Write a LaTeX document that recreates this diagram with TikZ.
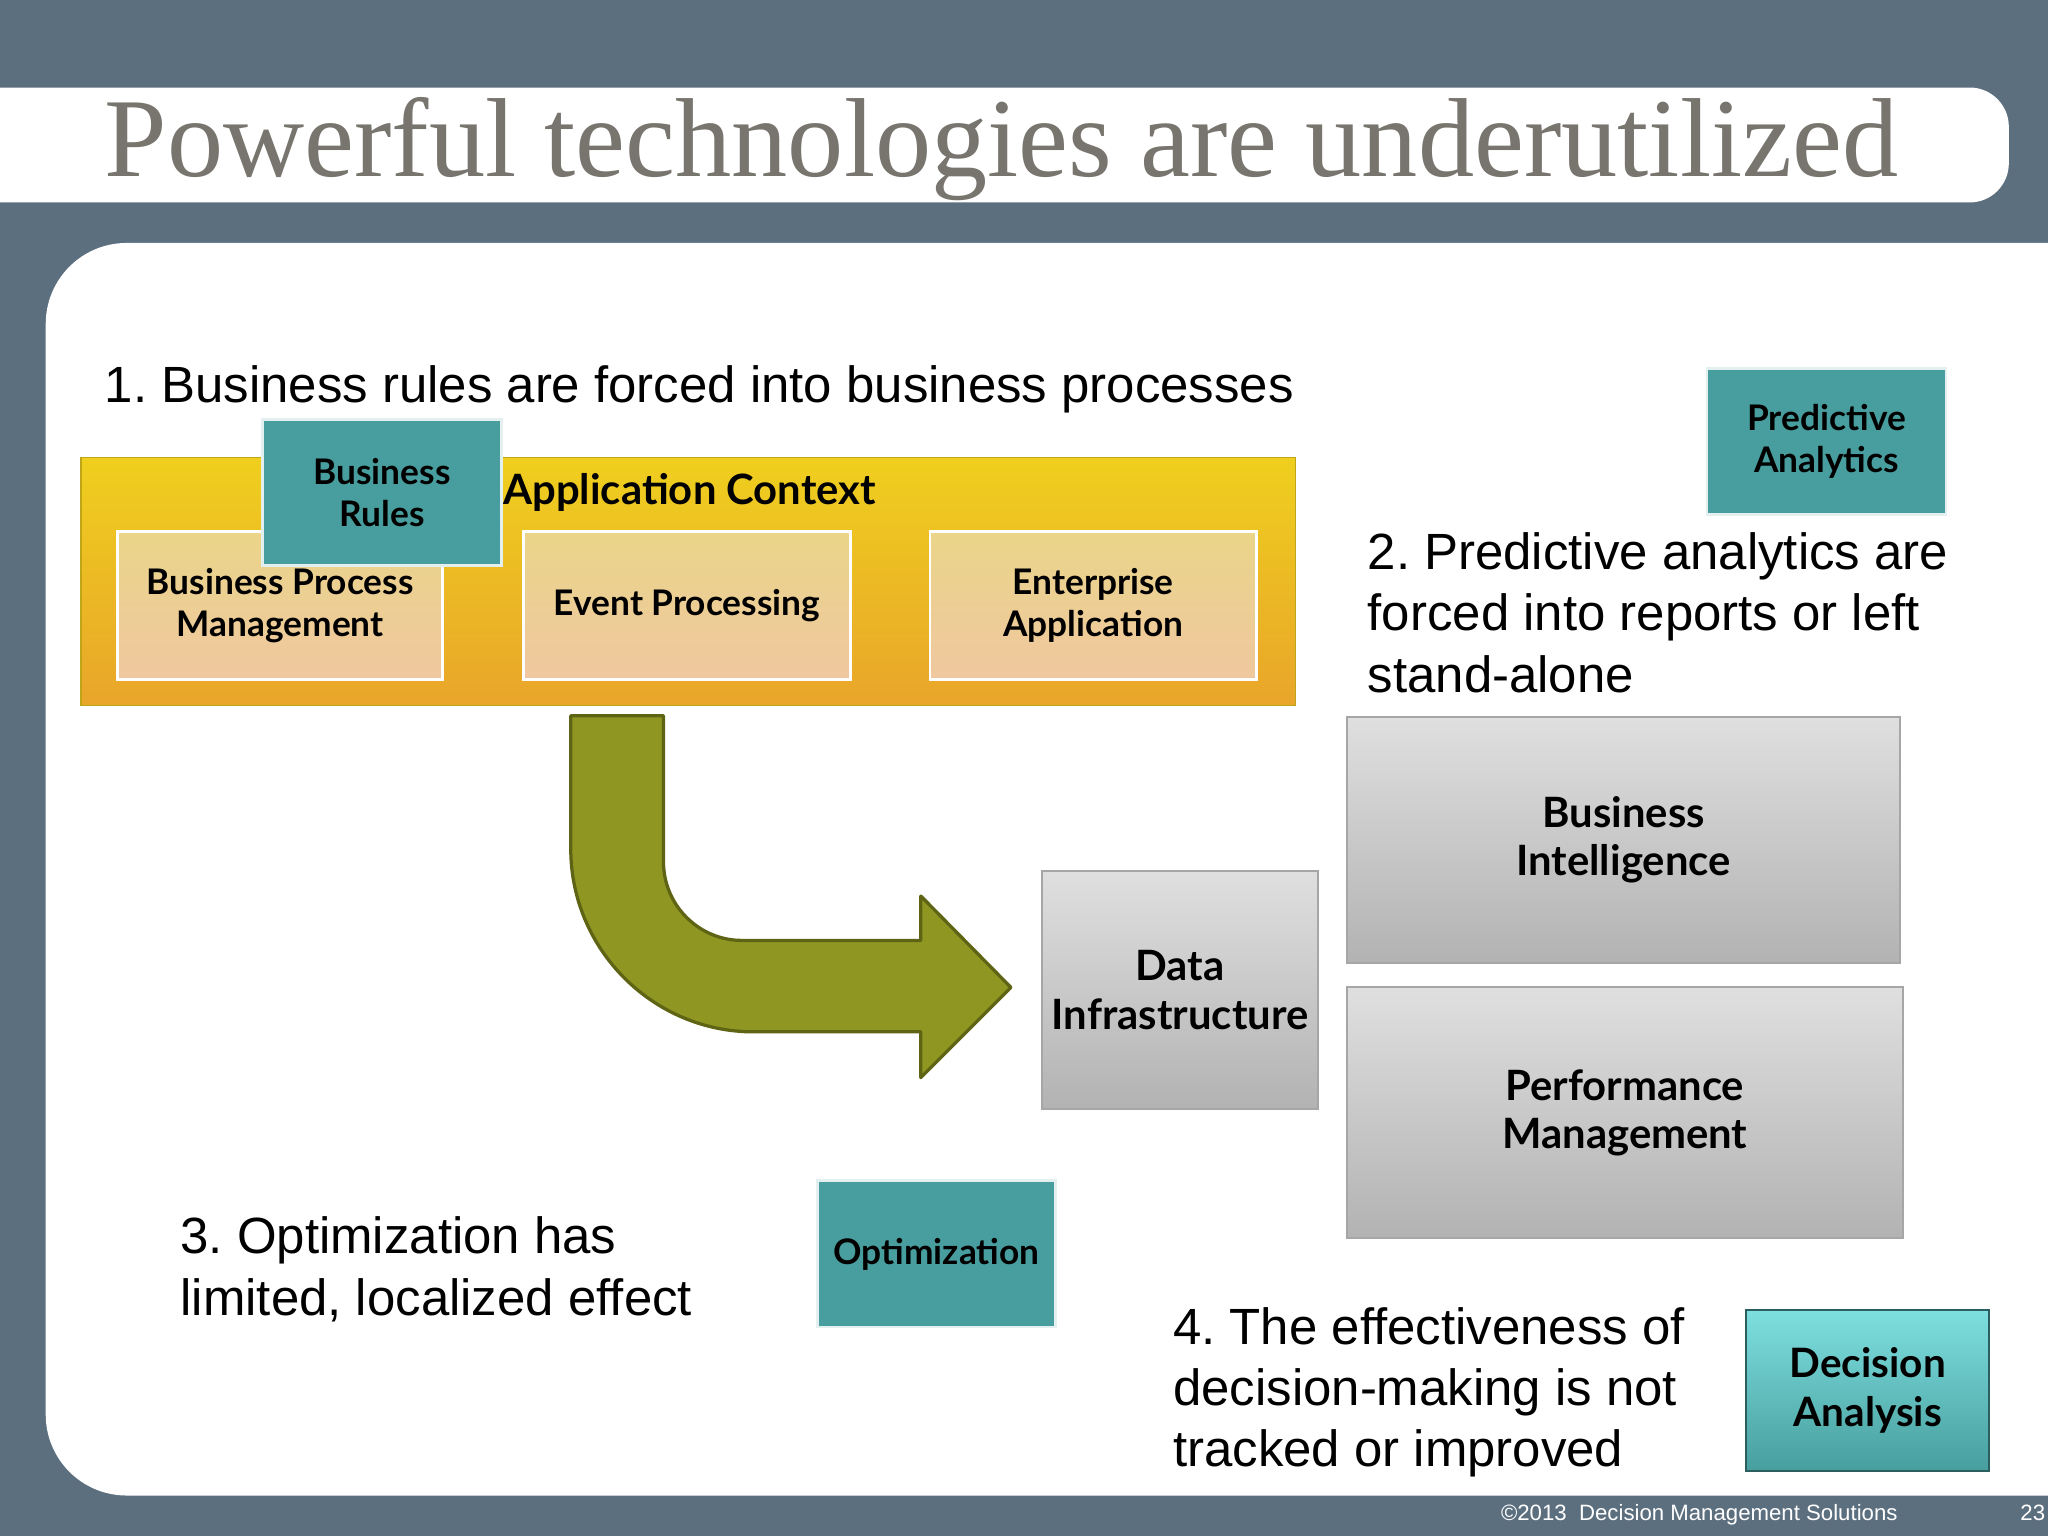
\documentclass[tikz,border=0pt]{standalone}
\usepackage{fontspec}
\setmainfont{Liberation Sans}
\newfontfamily\titlefont{Liberation Serif}
\newfontfamily\boxfont{Lato}
\definecolor{slate}{HTML}{5C6F7F}
\definecolor{titlegray}{HTML}{77756E}
\definecolor{tealc}{HTML}{489E9E}
\definecolor{olive}{HTML}{8F9722}
\definecolor{olivedark}{HTML}{5E6414}
\definecolor{actop}{HTML}{EFCF1E}
\definecolor{acbot}{HTML}{E9A52A}
\tikzset{
 txt/.style={anchor=base west,inner sep=0,font=\fontsize{39}{47}\selectfont,align=left},
 teal/.style={draw=white!85!tealc,line width=2pt,fill=tealc,font=\boxfont\bfseries\fontsize{27}{32}\selectfont,align=center,text=black},
 tan/.style={draw=white,line width=2pt,top color=white!20!yellow!45!brown!60,bottom color=white!25!orange!50!brown!50,font=\boxfont\bfseries\fontsize{27}{32}\selectfont,align=center},
 grayb/.style={draw=gray!70,line width=1.5pt,top color=gray!25,bottom color=gray!60,font=\boxfont\bfseries\fontsize{32}{37}\selectfont,align=center},
}
\begin{document}
\frenchspacing
\begin{tikzpicture}[x=1pt,y=-1pt]
\useasboundingbox (0,0) rectangle (1568,1176);
\fill[slate] (0,0) rectangle (1568,1176);
% title bar
\fill[white,rounded corners=30pt] (-100,67) rectangle (1538,155);
\node[anchor=base west,inner sep=0,text=titlegray,font=\titlefont\fontsize{86}{90}\selectfont] (title) at (80,135) {Powerful technologies are underutilized};
% panel
\fill[white,rounded corners=62pt] (35,186) rectangle (1700,1145);
\node[anchor=base east,inner sep=0,text=white,font=\fontsize{17}{18}\selectfont] (copy) at (1453,1164) {\textcopyright2013\ \ Decision Management Solutions};
\node[anchor=base east,inner sep=0,text=white,font=\fontsize{17}{18}\selectfont] (pg) at (1566,1164) {23};
% texts
\node[txt] (t1) at (80,308) {1. Business rules are forced into business processes};
\node[txt] (t2) at (1047,530) {2. Predictive analytics are\\forced into reports or left\\stand-alone};
\node[txt] (t3) at (138,1007) {3. Optimization has\\limited, localized effect};
\node[txt] (t4) at (898,1123) {4. The effectiveness of\\decision-making is not\\tracked or improved};
% application context
\path[top color=actop,bottom color=acbot,draw=actop!80!black,line width=1pt] (62,350) rectangle (992,540);
\node[font=\boxfont\bfseries\fontsize{32}{32}\selectfont,inner sep=0] (ac) at (528,377) {Application Context};
\node[tan,minimum width=249pt,minimum height=113pt] (bpm) at (214.5,463.5) {Business Process\\Management};
\node[tan,minimum width=250pt,minimum height=113pt] (ep) at (526,463.5) {Event Processing};
\node[tan,minimum width=250pt,minimum height=113pt] (ea) at (837,463.5) {Enterprise\\Application};
\node[teal,minimum width=183pt,minimum height=112pt] (br) at (292.5,377) {Business\\Rules};
\node[teal,minimum width=183pt,minimum height=112pt] (pa) at (1398.5,338) {Predictive\\Analytics};
\node[teal,minimum width=182pt,minimum height=112pt] (opt) at (717,960) {Optimization};
\node[draw=tealc!60!black,line width=1.5pt,top color=tealc!55!cyan!60!white,bottom color=tealc,font=\boxfont\bfseries\fontsize{31}{37}\selectfont,align=center,minimum width=186pt,minimum height=123pt] (da) at (1430,1064.5) {Decision\\Analysis};
% gray boxes
\node[grayb,minimum width=424pt,minimum height=188pt] (bi) at (1243,643) {Business\\Intelligence};
\node[grayb,minimum width=426pt,minimum height=192pt] (pm) at (1244,852) {Performance\\Management};
\node[grayb,minimum width=211pt,minimum height=182pt] (di) at (903.5,758) {Data\\Infrastructure};
% arrow
\draw[fill=olive,draw=olivedark,line width=2.5pt,line join=round]
 (437,548) -- (508,548) -- (508,660) .. controls (508,693) and (535,720) .. (568,720)
 -- (705,720) -- (705,686) -- (774,756) -- (705,825) -- (705,790) -- (577,790)
 .. controls (500,790) and (437,727) .. (437,650) -- cycle;
\end{tikzpicture}
\end{document}
